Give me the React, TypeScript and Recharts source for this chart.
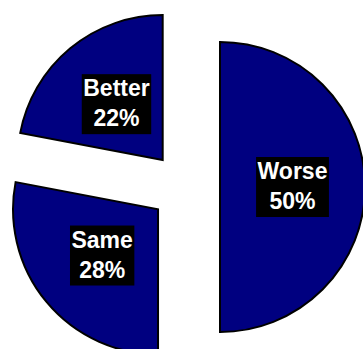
import { Pie, PieChart, Sector } from 'recharts'

const categories = ['Worse', 'Same', 'Better']
const shares = [50, 28, 22]
const percentLabels = ['50%', '28%', '22%']

const data = categories.map((name, i) => ({ name, value: shares[i], pct: percentLabels[i] }))

const RADIAN = Math.PI / 180
const EXPLODE = 35
const FONT = 'bold 23px "Liberation Sans", Arial, sans-serif'

function measure(text: string) {
  const ctx = document.createElement('canvas').getContext('2d')
  if (!ctx) return text.length * 13
  ctx.font = FONT
  return ctx.measureText(text).width
}

function shift(midAngle: number) {
  return {
    dx: EXPLODE * Math.cos(-midAngle * RADIAN),
    dy: EXPLODE * Math.sin(-midAngle * RADIAN),
  }
}

function ExplodedSector(props: any) {
  const { dx, dy } = shift(props.midAngle)
  return (
    <Sector
      cx={props.cx + dx}
      cy={props.cy + dy}
      innerRadius={0}
      outerRadius={props.outerRadius}
      startAngle={props.startAngle}
      endAngle={props.endAngle}
      fill="#000080"
      stroke="#000000"
      strokeWidth={2}
    />
  )
}

function BoxLabel(props: any) {
  const { cx, cy, midAngle, outerRadius, index } = props
  const { dx, dy } = shift(midAngle)
  const r = outerRadius * 0.5
  const x = cx + dx + r * Math.cos(-midAngle * RADIAN)
  const y = cy + dy + r * Math.sin(-midAngle * RADIAN)
  const name = data[index].name
  const pct = data[index].pct
  const w = Math.max(measure(name), measure(pct)) + 3
  return (
    <g>
      <rect x={x - w / 2} y={y - 30} width={w} height={60} fill="#000000" />
      <text
        x={x}
        y={y - 8}
        textAnchor="middle"
        fill="#ffffff"
        style={{ font: FONT }}
      >
        {name}
      </text>
      <text
        x={x}
        y={y + 22}
        textAnchor="middle"
        fill="#ffffff"
        style={{ font: FONT }}
      >
        {pct}
      </text>
    </g>
  )
}

export default function App() {
  return (
    <div style={{ position: 'fixed', left: 0, top: 0, width: 363, height: 349, overflow: 'hidden', background: '#fff' }}>
      <PieChart width={363} height={349} margin={{ top: 0, right: 0, bottom: 0, left: 0 }}>
        <Pie
          data={data}
          dataKey="value"
          nameKey="name"
          cx={185}
          cy={187}
          innerRadius={0}
          outerRadius={145}
          startAngle={90}
          endAngle={-270}
          fill="#000080"
          stroke="#000000"
          strokeWidth={2}
          shape={ExplodedSector}
          label={BoxLabel}
          labelLine={false}
          isAnimationActive={false}
        />
      </PieChart>
    </div>
  )
}
